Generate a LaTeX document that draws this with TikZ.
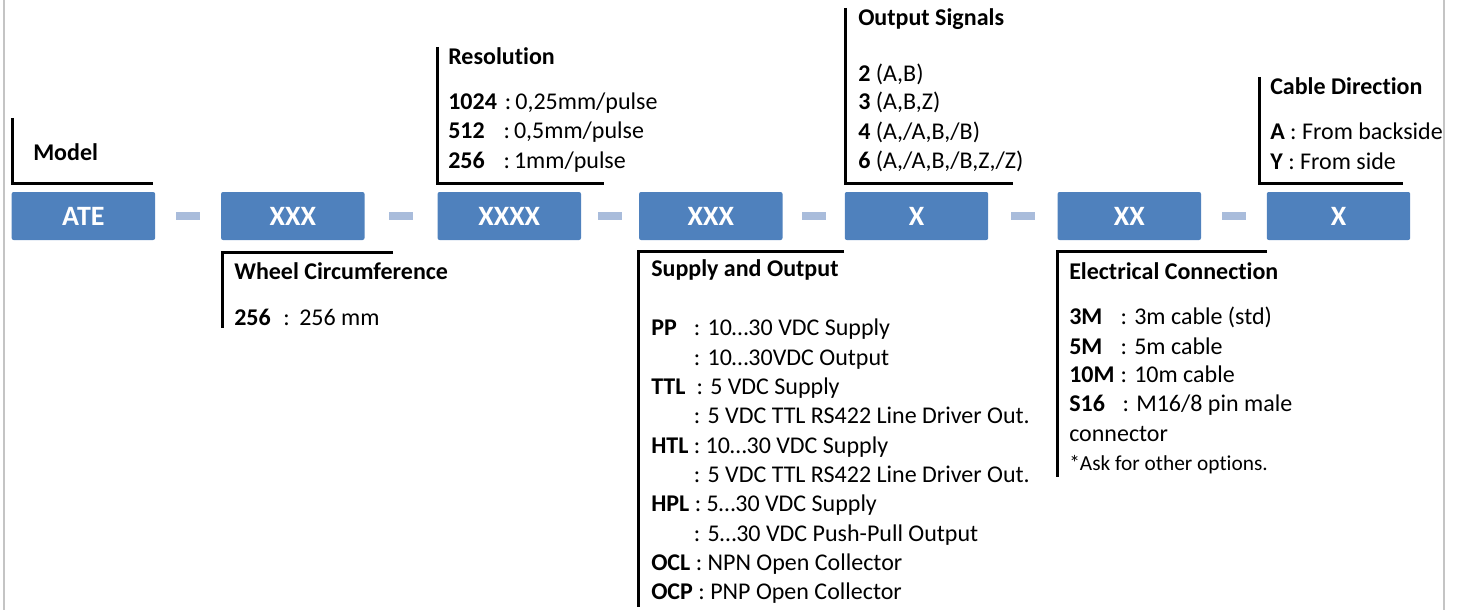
\documentclass[tikz,border=0pt]{standalone}
\usepackage{fontspec}
\setmainfont{Carlito}[Ligatures=NoCommon]
\definecolor{boxblue}{HTML}{4F81BD}
\definecolor{dashblue}{HTML}{A9BCDB}
\definecolor{framegray}{HTML}{C4C4C4}
\newcommand{\lbl}[2]{\makebox[#1][l]{\textbf{#2}}}
\begin{document}
\begin{tikzpicture}[x=0.75pt,y=-0.75pt,
  codebox/.style={fill=boxblue, draw=none, rounded corners=1.5pt, minimum width=107.6pt, minimum height=36pt, inner sep=0pt, text=white, font=\fontsize{21}{25}\selectfont\bfseries},
  dashbar/.style={fill=dashblue, draw=none, minimum width=18pt, minimum height=6.4pt, inner sep=0pt},
  bracket/.style={line width=2.25pt, black},
  txt/.style={anchor=base west, inner sep=0pt, font=\fontsize{18}{22}\selectfont},
  ttl/.style={anchor=base west, inner sep=0pt, font=\fontsize{18}{22}\selectfont\bfseries},
  smalltxt/.style={anchor=base west, inner sep=0pt, font=\fontsize{16}{19}\selectfont},
  framebar/.style={framegray, line width=1.5pt}]
\useasboundingbox (0,0) rectangle (1461,610);
\draw[framebar] (3.7,0) -- (3.7,610);
\draw[framebar] (1443.7,0) -- (1443.7,610);

% code boxes
\node[codebox] (b1) at (83.4,216) {ATE};
\node[codebox] (b2) at (292.8,216) {XXX};
\node[codebox] (b3) at (509.3,216) {XXXX};
\node[codebox] (b4) at (710.8,216) {XXX};
\node[codebox] (b5) at (916.5,216) {X};
\node[codebox] (b6) at (1129.3,216) {XX};
\node[codebox] (b7) at (1338.5,216) {X};

% dashes between boxes
\path (b1) -- node[dashbar] (d1) {} (b2);
\path (b2) -- node[dashbar] (d2) {} (b3);
\path (b3) -- node[dashbar] (d3) {} (b4);
\path (b4) -- node[dashbar] (d4) {} (b5);
\path (b5) -- node[dashbar] (d5) {} (b6);
\path (b6) -- node[dashbar] (d6) {} (b7);

% brackets
\draw[bracket] (12.3,118) |- (153,183);
\draw[bracket] (393,252) -| (222.5,328);
\draw[bracket] (437.5,47) |- (604,183);
\draw[bracket] (844,251) -| (638.5,607);
\draw[bracket] (845.5,8) |- (1013,183);
\draw[bracket] (1267,251) -| (1057.5,477);
\draw[bracket] (1259,77) |- (1403,183);

% Model
\node[ttl] (tmodel) at (33,160.7) {Model};

% Wheel circumference
\node[ttl] (twheel) at (234,279) {Wheel Circumference};
\node[txt] (w1) at (234,325) {\lbl{36.75pt}{256}:\hspace{7.2pt}256 mm};

% Resolution
\node[ttl] (tres) at (448,65) {Resolution};
\node[txt] (r1) at (448,110) {\lbl{42.5pt}{1024}:\hspace{3pt}0,25mm/pulse};
\node[txt] (r2) at (448,138.3) {\lbl{41.5pt}{512}:\hspace{3pt}0,5mm/pulse};
\node[txt] (r3) at (448,168.3) {\lbl{41.5pt}{256}:\hspace{3pt}1mm/pulse};

% Supply and Output
\node[ttl] (tsup) at (651,276.7) {Supply and Output};
\node[txt] (s1) at (651,335.7) {\lbl{32pt}{PP}: 10…30 VDC Supply};
\node[txt] (s2) at (651,365.1) {\lbl{32pt}{}: 10…30VDC Output};
\node[txt] (s3) at (651,394.4) {\lbl{34pt}{TTL}: 5 VDC Supply};
\node[txt] (s4) at (651,423.8) {\lbl{32pt}{}: 5 VDC TTL RS422 Line Driver Out.};
\node[txt] (s5) at (651,453.1) {\textbf{HTL} : 10…30 VDC Supply};
\node[txt] (s6) at (651,482.5) {\lbl{32pt}{}: 5 VDC TTL RS422 Line Driver Out.};
\node[txt] (s7) at (651,511.9) {\textbf{HPL} : 5…30 VDC Supply};
\node[txt] (s8) at (651,541.2) {\lbl{32pt}{}: 5…30 VDC Push-Pull Output};
\node[txt] (s9) at (651,570.6) {\textbf{OCL} : NPN Open Collector};
\node[txt] (s10) at (651,599.9) {\textbf{OCP} : PNP Open Collector};

% Output Signals
\node[ttl] (tout) at (858,26) {Output Signals};
\node[txt] (o1) at (858,81.7) {\textbf{2} (A,B)};
\node[txt] (o2) at (858,110) {\textbf{3} (A,B,Z)};
\node[txt] (o3) at (858,139.3) {\textbf{4} (A,/A,B,/B)};
\node[txt] (o4) at (858,168.3) {\textbf{6} (A,/A,B,/B,Z,/Z)};

% Electrical Connection
\node[ttl] (telec) at (1069,279) {Electrical Connection};
\node[txt] (e1) at (1069,324) {\lbl{38.5pt}{3M}: 3m cable (std)};
\node[txt] (e2) at (1069,354) {\lbl{38.5pt}{5M}: 5m cable};
\node[txt] (e3) at (1069,382.7) {\lbl{38.5pt}{10M}: 10m cable};
\node[txt] (e4) at (1069,411.7) {\lbl{40pt}{S16}: M16/8 pin male};
\node[txt] (e5) at (1069,441.7) {connector};
\node[smalltxt] (e6) at (1069,470.7) {*Ask for other options.};

% Cable Direction
\node[ttl] (tcab) at (1270,95) {Cable Direction};
\node[txt] (c1) at (1270,140) {\textbf{A} : From backside};
\node[txt] (c2) at (1270,169.3) {\textbf{Y} : From side};
\end{tikzpicture}
\end{document}
